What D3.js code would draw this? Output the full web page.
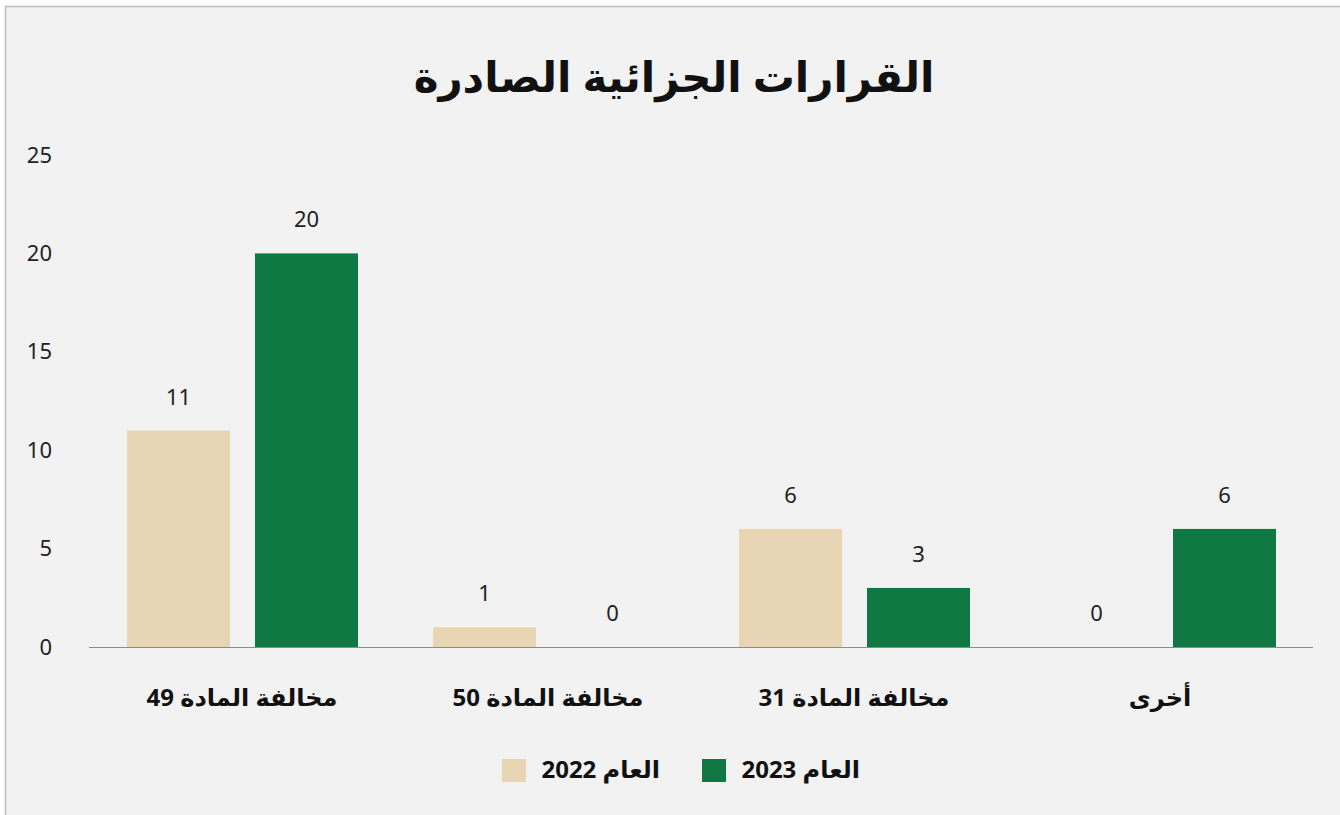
<!DOCTYPE html>
<html><head><meta charset="utf-8">
<script src="https://cdn.jsdelivr.net/npm/d3@7"></script>
<style>
html,body{margin:0;padding:0;background:#fff;}
svg{display:block;}
</style></head>
<body>
<svg id="c" width="1340" height="815"></svg>
<script>
const title = "القرارات الجزائية الصادرة";
const categories = ["مخالفة المادة 49", "مخالفة المادة 50", "مخالفة المادة 31", "أخرى"];
const seriesNames = ["العام 2022", "العام 2023"];
const values2022 = [11, 1, 6, 0];
const values2023 = [20, 0, 3, 6];
const yTicks = [0, 5, 10, 15, 20, 25];
const colors = ["#E8D5B3", "#107843"];

const svg = d3.select("#c");
const font = "'Noto Sans','Open Sans','DejaVu Sans',sans-serif";

svg.append("rect").attr("x", 5.5).attr("y", 6.5).attr("width", 1400).attr("height", 900)
  .attr("fill", "#F2F2F2").attr("stroke", "#BDBDBD").attr("stroke-width", 1.5);

const x0 = d3.scaleBand().domain(categories).range([89, 1313]).paddingInner(0).paddingOuter(0);
const x1 = d3.scaleBand().domain([0, 1]).range([38, 269]).paddingInner(25 / 128);
const y = d3.scaleLinear().domain([0, 25]).range([647, 155]);

svg.append("text").attr("x", 674).attr("y", 92).attr("text-anchor", "middle")
  .attr("font-family", font).attr("font-weight", "bold").attr("font-size", 42)
  .attr("fill", "#111").text(title);

// y axis
const yAxis = d3.axisLeft(y).tickValues(yTicks).tickSize(0).tickPadding(0);
const yg = svg.append("g").attr("transform", "translate(52,0)").call(yAxis);
yg.select(".domain").remove();
yg.selectAll("text").attr("font-family", font).attr("font-size", 22).attr("fill", "#222");

// baseline
svg.append("line").attr("x1", 89).attr("x2", 1313).attr("y1", 647.5).attr("y2", 647.5)
  .attr("stroke", "#8C8C8C").attr("stroke-width", 1);

const data = categories.map((c, i) => ({c, v: [values2022[i], values2023[i]]}));
const g = svg.append("g");
data.forEach(d => {
  d.v.forEach((v, s) => {
    const bx = x0(d.c) + x1(s);
    g.append("rect").attr("x", bx).attr("y", y(v)).attr("width", x1.bandwidth())
      .attr("height", y(0) - y(v)).attr("fill", colors[s]);
    g.append("text").attr("x", bx + x1.bandwidth() / 2).attr("y", y(v) - 26)
      .attr("text-anchor", "middle").attr("font-family", font).attr("font-size", 22)
      .attr("fill", "#222").text(v);
  });
});

// x axis labels
const xAxis = d3.axisBottom(x0).tickSize(0).tickPadding(0);
const xg = svg.append("g").attr("transform", "translate(0,706)").call(xAxis);
xg.select(".domain").remove();
xg.selectAll("text").attr("font-family", font).attr("font-weight", "bold").attr("font-size", 24)
  .attr("fill", "#111").attr("dy", 0).attr("direction", "rtl");

// legend
const legend = [{name: seriesNames[0], color: colors[0], sx: 502, tx: 660},
                {name: seriesNames[1], color: colors[1], sx: 702, tx: 860}];
legend.forEach(l => {
  svg.append("rect").attr("x", l.sx).attr("y", 759).attr("width", 24).attr("height", 23).attr("fill", l.color);
  svg.append("text").attr("x", l.tx).attr("y", 778).attr("text-anchor", "start")
    .attr("direction", "rtl").attr("font-family", font).attr("font-weight", "bold")
    .attr("font-size", 24).attr("fill", "#111").text(l.name);
});
</script>
</body></html>
